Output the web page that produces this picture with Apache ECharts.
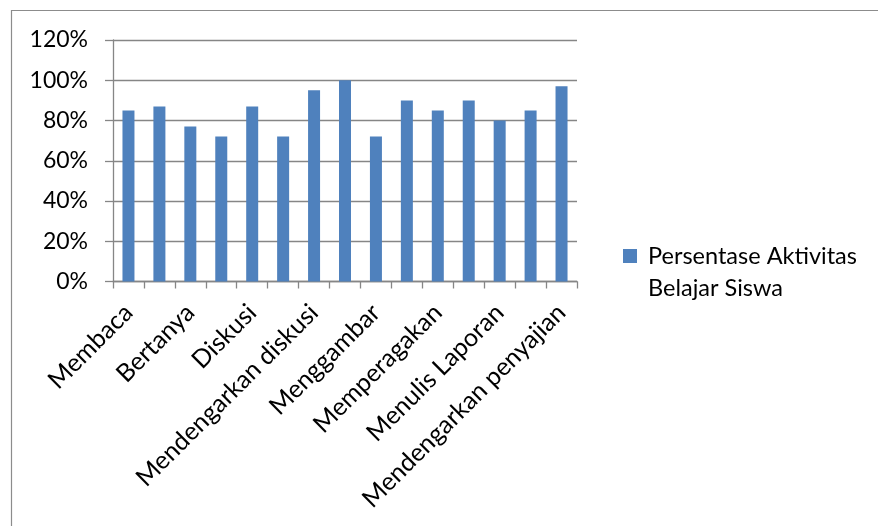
<!DOCTYPE html>
<html>
<head>
<meta charset="utf-8">
<script src="https://cdn.jsdelivr.net/npm/echarts@6/dist/echarts.min.js"></script>
<style>
html,body{margin:0;padding:0;background:#fff;}
#chart{width:878px;height:526px;}
</style>
</head>
<body>
<div id="chart"></div>
<script>
// 15 bars; the reference only prints every other category label.
// Odd-position names are not visible in the reference (placeholders, never drawn).
var categories = [
  'Membaca', 'Kategori 2', 'Bertanya', 'Kategori 4', 'Diskusi',
  'Kategori 6', 'Mendengarkan diskusi', 'Kategori 8', 'Menggambar', 'Kategori 10',
  'Memperagakan', 'Kategori 12', 'Menulis Laporan', 'Kategori 14', 'Mendengarkan penyajian'
];
var seriesName = 'Persentase Aktivitas Belajar Siswa';
var values = [85, 87, 77, 72, 87, 72, 95, 100, 72, 90, 85, 90, 80, 85, 97];
var yTicks = [0, 20, 40, 60, 80, 100, 120];

var FONT = 'Lato';
var chart = echarts.init(document.getElementById('chart'), null, {renderer: 'canvas'});
chart.setOption({
  animation: false,
  backgroundColor: '#fff',
  textStyle: {fontFamily: FONT},
  graphic: [{
    type: 'rect',
    shape: {x: 11.5, y: 10.5, width: 1000, height: 1000},
    style: {fill: 'none', stroke: '#8c8c8c', lineWidth: 1.2},
    silent: true,
    z: 0
  }],
  grid: {left: 113, right: 301, top: 40, bottom: 244.5, containLabel: false},
  legend: {
    orient: 'vertical',
    left: 623,
    top: 208,
    padding: 0,
    itemWidth: 14,
    itemHeight: 14,
    itemGap: 0,
    icon: 'rect',
    formatter: function (n) { return '\n ' + n.replace(' Belajar', '\n Belajar'); },
    textStyle: {fontFamily: FONT, fontSize: 23.5, color: '#000', lineHeight: 32},
    data: [seriesName]
  },
  xAxis: {
    type: 'category',
    data: categories,
    boundaryGap: true,
    axisLine: {lineStyle: {color: '#868686', width: 1.3}},
    axisTick: {show: true, interval: 0, length: 7, lineStyle: {color: '#868686', width: 1.3}},
    axisLabel: {interval: 1, rotate: 45, margin: 27, fontFamily: FONT, fontSize: 25, color: '#000'}
  },
  yAxis: {
    type: 'value',
    min: yTicks[0],
    max: yTicks[yTicks.length - 1],
    interval: 20,
    axisLine: {show: true, lineStyle: {color: '#868686', width: 1.3}},
    axisTick: {show: true, length: 8, lineStyle: {color: '#868686', width: 1.3}},
    splitLine: {show: true, lineStyle: {color: '#868686', width: 1.3}},
    axisLabel: {formatter: '{value}%', margin: 25, fontFamily: FONT, fontSize: 23, color: '#000'}
  },
  series: [{
    name: seriesName,
    type: 'bar',
    data: values,
    barWidth: 12,
    itemStyle: {color: '#4F81BD'}
  }]
});
</script>
</body>
</html>
